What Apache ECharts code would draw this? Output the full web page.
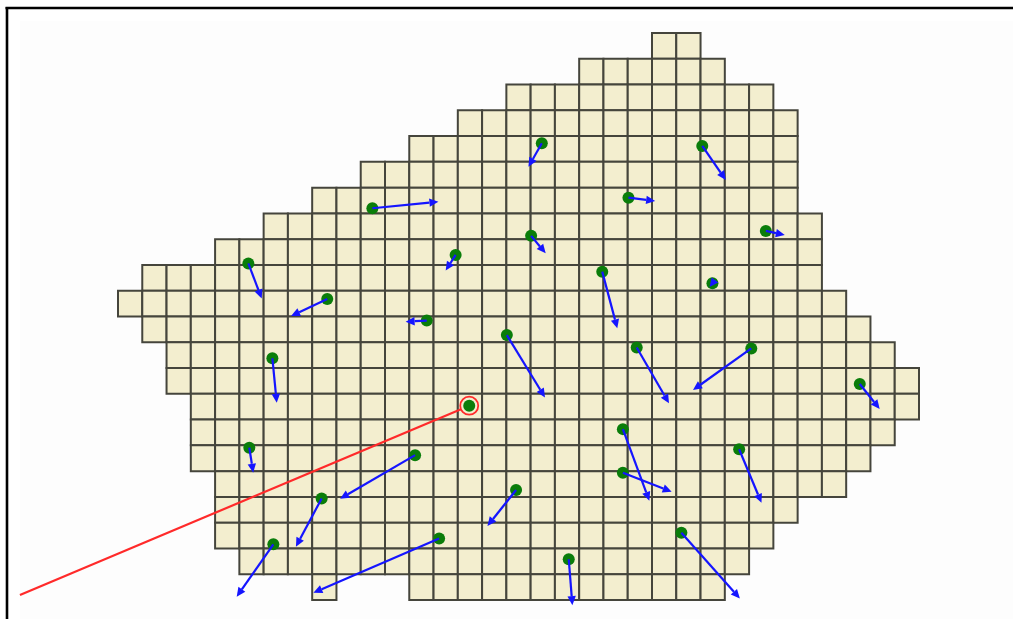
<!DOCTYPE html>
<html>
<head>
<meta charset="utf-8">
<script src="https://cdn.jsdelivr.net/npm/echarts@6/dist/echarts.min.js"></script>
<style>
html,body{margin:0;padding:0;background:#fff;}
#chart{width:1013px;height:619px;}
</style>
</head>
<body>
<div id="chart"></div>
<script>
// Grid shape: first and last filled column of each row (row 0 at top)
const rowFirst = [22,19,16,14,12,10,8,6,4,1,0,1,2,2,3,3,3,4,4,4,5,12];
const rowLast  = [23,24,26,27,27,27,27,28,28,28,29,30,31,32,32,31,30,29,27,26,25,24];
// isolated cells [col,row]
const extraCells = [[8,21]];

// Points (cell units) and arrow tips
const pointX = [17.46,10.48,21.03,17.02,13.91,19.95,24.07,26.69,24.49,5.37,8.62,12.72,16.02,21.37,26.09,30.56,6.36,14.47,5.41,12.24,20.80,20.80,25.59,16.40,8.39,6.40,13.23,18.57,23.21];
const pointY = [4.28,6.80,6.39,7.87,8.61,9.26,4.38,7.68,9.71,8.94,10.32,11.16,11.72,12.20,12.24,13.62,12.62,14.46,16.09,16.38,15.37,17.06,16.15,17.73,18.06,19.84,19.61,20.42,19.39];
const tipX = [16.91,13.20,22.13,17.62,13.50,20.57,25.04,27.47,24.37,5.92,7.13,11.85,17.59,22.70,23.69,31.38,6.54,null,5.57,9.15,21.89,22.81,26.51,15.22,7.33,4.89,8.05,18.72,25.62];
const tipY = [5.19,6.55,6.52,8.55,9.22,11.46,5.70,7.84,9.86,10.30,10.98,11.20,14.14,14.37,13.85,14.59,14.35,null,17.06,18.07,18.15,17.80,18.23,19.13,19.93,21.87,21.72,22.20,21.94];

// Highlighted point and the end of its leader line
const highlightIndex = 17;
const leaderEnd = [-4.04, 21.81];

const cells = [];
rowFirst.forEach((f, r) => {
  for (let c = f; c <= rowLast[r]; c++) cells.push([c, r]);
});
extraCells.forEach(c => cells.push(c));

const points = pointX.map((x, i) => [x, pointY[i]]);
const arrows = pointX.map((x, i) => [x, pointY[i], tipX[i], tipY[i]]).filter(d => d[2] != null);
const highlight = [[pointX[highlightIndex], pointY[highlightIndex], leaderEnd[0], leaderEnd[1]]];

const chart = echarts.init(document.getElementById('chart'), null, {renderer: 'canvas'});
chart.setOption({
  animation: false,
  backgroundColor: '#ffffff',
  grid: {left: 118, top: 33, width: 801, height: 567},
  xAxis: {type: 'value', min: 0, max: 33, show: false},
  yAxis: {type: 'value', min: 0, max: 22, inverse: true, show: false},
  graphic: [
    {type: 'rect', z: -10, shape: {x: 20, y: 21, width: 1000, height: 700}, style: {fill: '#fdfdfd'}},
    {type: 'line', z: 100, shape: {x1: 5.5, y1: 8, x2: 1013, y2: 8}, style: {stroke: '#000', lineWidth: 2.6}},
    {type: 'line', z: 100, shape: {x1: 7, y1: 7, x2: 7, y2: 619}, style: {stroke: '#000', lineWidth: 2.6}}
  ],
  series: [
    {
      type: 'custom',
      z: 1,
      clip: false,
      data: cells,
      renderItem: function (params, api) {
        const c = api.value(0), r = api.value(1);
        const p0 = api.coord([c, r]);
        const p1 = api.coord([c + 1, r + 1]);
        return {
          type: 'rect',
          shape: {x: p0[0], y: p0[1], width: p1[0] - p0[0], height: p1[1] - p0[1]},
          style: {fill: '#f3eecf', stroke: '#45453c', lineWidth: 2}
        };
      }
    },
    {
      type: 'custom',
      z: 3,
      clip: false,
      data: highlight,
      renderItem: function (params, api) {
        const p = api.coord([api.value(0), api.value(1)]);
        const q = api.coord([api.value(2), api.value(3)]);
        const R = 9;
        const dx = q[0] - p[0], dy = q[1] - p[1];
        const len = Math.sqrt(dx * dx + dy * dy);
        const s = [p[0] + dx / len * R, p[1] + dy / len * R];
        return {
          type: 'group',
          children: [
            {type: 'line', shape: {x1: s[0], y1: s[1], x2: q[0], y2: q[1]}, style: {stroke: '#ff2a2a', lineWidth: 2.2}},
            {type: 'circle', shape: {cx: p[0], cy: p[1], r: R}, style: {fill: 'none', stroke: '#ff2a2a', lineWidth: 1.8}}
          ]
        };
      }
    },
    {
      type: 'scatter',
      z: 4,
      clip: false,
      symbol: 'circle',
      symbolSize: 12,
      itemStyle: {color: '#0a7d0a', opacity: 1},
      data: points
    },
    {
      type: 'custom',
      z: 5,
      clip: false,
      data: arrows,
      renderItem: function (params, api) {
        const p = api.coord([api.value(0), api.value(1)]);
        const q = api.coord([api.value(2), api.value(3)]);
        const dx = q[0] - p[0], dy = q[1] - p[1];
        const len = Math.max(Math.sqrt(dx * dx + dy * dy), 0.001);
        const ux = dx / len, uy = dy / len;
        const hl = 9, hw = 4.2;
        const b = [q[0] - ux * hl, q[1] - uy * hl];
        const children = [];
        if (len > hl) {
          children.push({type: 'line', shape: {x1: p[0], y1: p[1], x2: b[0], y2: b[1]}, style: {stroke: '#1515ff', lineWidth: 2.2}});
        }
        children.push({
          type: 'polygon',
          shape: {points: [q, [b[0] - uy * hw, b[1] + ux * hw], [b[0] + uy * hw, b[1] - ux * hw]]},
          style: {fill: '#1515ff'}
        });
        return {type: 'group', children: children};
      }
    }
  ]
});
</script>
</body>
</html>
